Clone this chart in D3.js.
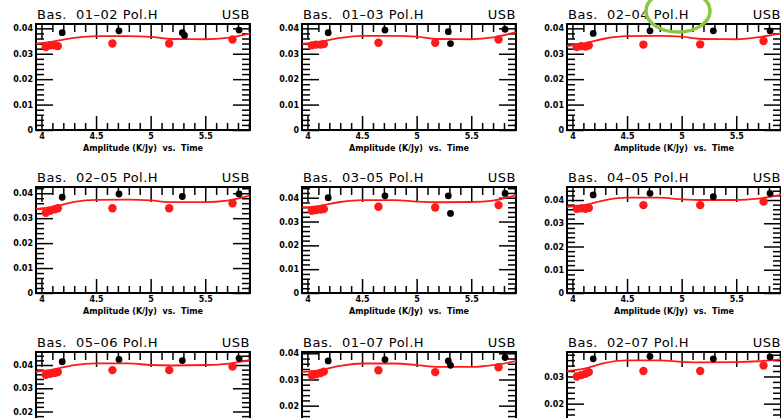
<!DOCTYPE html>
<html lang="en">
<head>
<meta charset="UTF-8">
<title>Amplitude vs. Time</title>
<script src="https://cdn.jsdelivr.net/npm/d3@7"></script>
<style>
	body { margin: 0; background: #fff; }
	svg { display: block; }
	text { font-family: "DejaVu Sans", sans-serif; fill: #000; }
	.title { font-size: 13px; letter-spacing: 0.5px; white-space: pre; }
	.tick text { font-size: 8px; font-weight: bold; }
	.xlabel { font-size: 8px; font-weight: bold; white-space: pre; }
</style>
</head>
<body>
<svg width="781" height="418"></svg>
<script>
// panels, row by row
var titles = ["Bas.  01\u201302 Pol.H", "Bas.  01\u201303 Pol.H", "Bas.  02\u201304 Pol.H",
              "Bas.  02\u201305 Pol.H", "Bas.  03\u201305 Pol.H", "Bas.  04\u201305 Pol.H",
              "Bas.  05\u201306 Pol.H", "Bas.  01\u201307 Pol.H", "Bas.  02\u201307 Pol.H"];
var sideband = "USB";
var xLabel = "Amplitude (K/Jy)  vs.  Time";

var timeDomain = [3.95, 5.91];
var xTicks = [4, 4.5, 5, 5.5];
var xTickLabels = ["4", "4.5", "5", "5.5"];
var yTicks = [0, 0.01, 0.02, 0.03, 0.04];
var yTickLabels = ["0", "0.01", "0.02", "0.03", "0.04"];
var yMax = [0.0417, 0.0417, 0.0417, 0.0425, 0.0445, 0.0456, 0.0456, 0.0405, 0.0390];

// red points (one set of times, amplitudes per panel)
var redTime = [4.04, 4.08, 4.12, 4.15, 4.65, 5.17, 5.75];
var redAmp = [
	[0.0326, 0.0333, 0.0333, 0.0330, 0.0340, 0.0340, 0.0356],
	[0.0333, 0.0336, 0.0336, 0.0338, 0.0343, 0.0343, 0.0356],
	[0.0326, 0.0330, 0.0328, 0.0333, 0.0336, 0.0337, 0.0350],
	[0.0322, 0.0330, 0.0336, 0.0340, 0.0340, 0.0340, 0.0360],
	[0.0345, 0.0348, 0.0350, 0.0352, 0.0362, 0.0359, 0.0369],
	[0.0362, 0.0364, 0.0362, 0.0366, 0.0378, 0.0378, 0.0393],
	[0.0358, 0.0362, 0.0366, 0.0370, 0.0378, 0.0378, 0.0393],
	[0.0315, 0.0320, 0.0325, 0.0330, 0.0335, 0.0328, 0.0347],
	[0.0300, 0.0305, 0.0310, 0.0316, 0.0320, 0.0320, 0.0340]
];

// black points
var blackTime = [4.19, 4.71, 5.29, 5.81];
var blackAmp = [
	[0.0383, 0.0390, 0.0383, 0.0393],
	[0.0383, 0.0393, 0.0387, 0.0396],
	[0.0380, 0.0390, 0.0390, 0.0390],
	[0.0384, 0.0397, 0.0387, 0.0397],
	[0.0400, 0.0408, 0.0408, 0.0418],
	[0.0422, 0.0429, 0.0414, 0.0429],
	[0.0414, 0.0424, 0.0419, 0.0429],
	[0.0371, 0.0376, 0.0371, 0.0384],
	[0.0365, 0.0374, 0.0365, 0.0372]
];
// odd extra black point near 5.3 (time, amp) or null
var blackExtra = [[5.31, 0.0372], [5.31, 0.0340], null, null, [5.31, 0.0334], null, null, [5.31, 0.0354], null];

// red model curve
var modelTime = [3.95, 4.1, 4.3, 4.5, 4.8, 5.0, 5.2, 5.5, 5.7, 5.91];
var modelAmp = [
	[0.0340, 0.0348, 0.0362, 0.0369, 0.0369, 0.0366, 0.0358, 0.0357, 0.0362, 0.0380],
	[0.0340, 0.0346, 0.0362, 0.0370, 0.0370, 0.0367, 0.0358, 0.0357, 0.0364, 0.0385],
	[0.0330, 0.0340, 0.0360, 0.0369, 0.0370, 0.0367, 0.0358, 0.0357, 0.0365, 0.0380],
	[0.0336, 0.0345, 0.0365, 0.0373, 0.0374, 0.0371, 0.0364, 0.0364, 0.0370, 0.0390],
	[0.0360, 0.0365, 0.0382, 0.0390, 0.0390, 0.0384, 0.0381, 0.0382, 0.0388, 0.0411],
	[0.0371, 0.0378, 0.0400, 0.0410, 0.0410, 0.0403, 0.0400, 0.0400, 0.0406, 0.0422],
	[0.0371, 0.0380, 0.0400, 0.0407, 0.0407, 0.0400, 0.0398, 0.0400, 0.0405, 0.0422],
	[0.0328, 0.0335, 0.0352, 0.0361, 0.0361, 0.0355, 0.0348, 0.0348, 0.0355, 0.0370],
	[0.0320, 0.0328, 0.0350, 0.0359, 0.0359, 0.0354, 0.0352, 0.0353, 0.0356, 0.0363]
];

var colLeft = [36, 302, 567];
var rowTop = [24, 187, 352];
var w = 214, h = 106;
var H = 418;

var svg = d3.select("svg");

titles.forEach(function(title, i) {
	var col = i % 3, row = Math.floor(i / 3);
	var g = svg.append("g").attr("transform", "translate(" + colLeft[col] + "," + rowTop[row] + ")");

	var x = d3.scaleLinear().domain(timeDomain).range([0, w]);
	var y = d3.scaleLinear().domain([0, yMax[i]]).range([h, 0]);

	// tick positions: 0.1 in time, 0.002 in amplitude
	var xMinor = d3.range(40, 60).map(function(d) { return d / 10; }).filter(function(d) { return xTicks.indexOf(d) < 0; });
	var yMinor = d3.range(0, yMax[i] * 1000, 2).map(function(d) { return d / 1000; }).filter(function(d) { return Math.round(d * 1000) % 10 != 0; });
	var yMajor = yTicks.filter(function(d) { return d <= yMax[i]; });

	function axis(a, vals, size, labels) {
		return a.tickValues(vals).tickSize(size).tickPadding(3)
			.tickFormat(function(d) { return labels ? labels(d) : ""; });
	}
	var xl = function(d) { return xTickLabels[xTicks.indexOf(d)]; };
	var yl = function(d) { return yTickLabels[yTicks.indexOf(d)]; };

	var axes = [
		[d3.axisBottom(x), xMinor, -7, null, "translate(0," + h + ")"],
		[d3.axisBottom(x), xTicks, -14, xl, "translate(0," + h + ")"],
		[d3.axisTop(x), xMinor, -8, null, "translate(0,0)"],
		[d3.axisTop(x), xTicks, -15, null, "translate(0,0)"],
		[d3.axisLeft(y), yMinor, -8, null, "translate(0,0)"],
		[d3.axisLeft(y), yMajor, -17, yl, "translate(0,0)"],
		[d3.axisRight(y), yMinor, -8, null, "translate(" + w + ",0)"],
		[d3.axisRight(y), yMajor, -17, null, "translate(" + w + ",0)"]
	];
	axes.forEach(function(a) {
		var ag = g.append("g").attr("transform", a[4]).call(axis(a[0], a[1], a[2], a[3]));
		ag.select(".domain").remove();
		ag.selectAll("line").attr("stroke", "#000").attr("stroke-width", 1.5);
	});

	g.append("rect").attr("width", w).attr("height", h)
		.attr("fill", "none").attr("stroke", "#000").attr("stroke-width", 2);

	// model line
	var line = d3.line().curve(d3.curveMonotoneX)
		.x(function(d) { return x(d[0]); }).y(function(d) { return y(d[1]); });
	g.append("path").datum(d3.zip(modelTime, modelAmp[i]))
		.attr("d", line).attr("fill", "none").attr("stroke", "#ff1a1a").attr("stroke-width", 1.8);

	g.selectAll(".red").data(d3.zip(redTime, redAmp[i])).enter().append("circle")
		.attr("cx", function(d) { return x(d[0]); })
		.attr("cy", function(d) { return y(d[1]); })
		.attr("r", 4.2).attr("fill", "#ff1a1a");

	var blacks = d3.zip(blackTime, blackAmp[i]);
	if (blackExtra[i]) blacks.push(blackExtra[i]);
	g.selectAll(".blk").data(blacks).enter().append("circle")
		.attr("cx", function(d) { return x(d[0]); })
		.attr("cy", function(d) { return y(d[1]); })
		.attr("r", 3.4).attr("fill", "#000");

	// labels
	g.append("text").attr("class", "title").attr("x", 1).attr("y", -5.5).text(title);
	g.append("text").attr("class", "title").attr("x", w).attr("y", -5.5)
		.attr("text-anchor", "end").text(sideband);
	g.append("text").attr("class", "xlabel").attr("x", w / 2).attr("y", h + 21)
		.attr("text-anchor", "middle").text(xLabel);
});

// empty tick texts and texts that fall below the window are not drawn
svg.selectAll("text").filter(function() {
	return this.textContent === "" || this.getBoundingClientRect().top >= H;
}).remove();

// green marker ring round the third title
svg.append("ellipse").attr("cx", 678).attr("cy", 11).attr("rx", 32).attr("ry", 21)
	.attr("fill", "none").attr("stroke", "#8dc63f").attr("stroke-width", 3.5);
</script>
</body>
</html>
